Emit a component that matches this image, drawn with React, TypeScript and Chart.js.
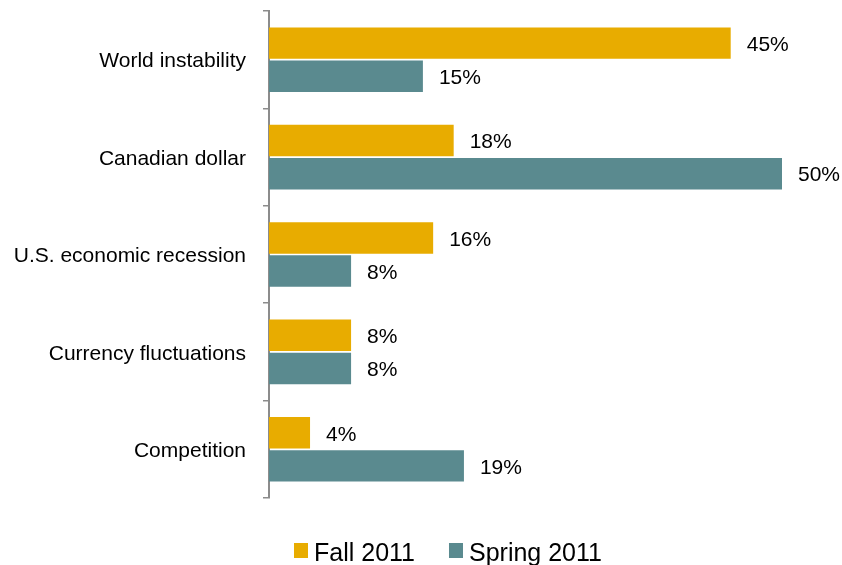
import React, { useEffect, useRef } from "react";
import { Chart, registerables } from "chart.js";

Chart.register(...registerables);

const categories = [
  "World instability",
  "Canadian dollar",
  "U.S. economic recession",
  "Currency fluctuations",
  "Competition",
];
const fall2011 = [45, 18, 16, 8, 4];
const spring2011 = [15, 50, 8, 8, 19];
const seriesNames = ["Fall 2011", "Spring 2011"];
const seriesColors = ["#E8AC00", "#5A8A8F"];

const FONT = '"Liberation Sans", Arial, sans-serif';

const valueLabels = {
  id: "valueLabels",
  afterDatasetsDraw(chart: any) {
    const ctx = chart.ctx;
    ctx.save();
    ctx.font = `21px ${FONT}`;
    ctx.fillStyle = "#000";
    ctx.textAlign = "left";
    ctx.textBaseline = "middle";
    chart.data.datasets.forEach((ds: any, di: number) => {
      const meta = chart.getDatasetMeta(di);
      meta.data.forEach((bar: any, i: number) => {
        ctx.fillText(`${ds.data[i]}%`, bar.x + 16, bar.y + 2);
      });
    });
    ctx.restore();
  },
};

const bottomLegend = {
  id: "bottomLegend",
  afterDraw(chart: any) {
    const ctx = chart.ctx;
    ctx.save();
    ctx.font = `25px ${FONT}`;
    ctx.textBaseline = "alphabetic";
    ctx.textAlign = "left";
    let x = 294;
    const boxTop = 543;
    const baseline = 561;
    chart.data.datasets.forEach((ds: any) => {
      ctx.fillStyle = ds.backgroundColor;
      ctx.fillRect(x, boxTop, 14, 15);
      ctx.fillStyle = "#000";
      ctx.fillText(ds.label, x + 20, baseline);
      x += 20 + ctx.measureText(ds.label).width + 34;
    });
    ctx.restore();
  },
};

export default function App() {
  const ref = useRef<HTMLCanvasElement>(null);
  useEffect(() => {
    document.body.style.margin = "0";
    const chart = new Chart(ref.current as HTMLCanvasElement, {
      type: "bar",
      data: {
        labels: categories,
        datasets: [
          {
            label: seriesNames[0],
            data: fall2011,
            backgroundColor: seriesColors[0],
            categoryPercentage: 0.68,
            barPercentage: 0.95,
          },
          {
            label: seriesNames[1],
            data: spring2011,
            backgroundColor: seriesColors[1],
            categoryPercentage: 0.68,
            barPercentage: 0.95,
          },
        ],
      },
      options: {
        indexAxis: "y",
        animation: false,
        responsive: false,
        layout: { padding: { top: 11, bottom: 67, right: 60, left: 0 } },
        plugins: {
          legend: { display: false },
          tooltip: { enabled: false },
        },
        scales: {
          x: { display: false, min: 0, max: 50 },
          y: {
            afterFit: (s: any) => {
              s.width = 269;
              s.paddingTop = 0;
              s.paddingBottom = 0;
            },
            border: { display: true, color: "#8C8C8C", width: 2 },
            grid: {
              display: true,
              drawOnChartArea: false,
              drawTicks: true,
              tickLength: 6,
              color: "#8C8C8C",
              lineWidth: 1.5,
              offset: true,
            },
            ticks: {
              padding: 17,
              labelOffset: 2,
              color: "#000",
              font: { family: FONT, size: 21 },
            },
          },
        },
      },
      plugins: [valueLabels, bottomLegend],
    });
    return () => chart.destroy();
  }, []);
  return (
    <div style={{ position: "absolute", left: 0, top: 0, width: 842, height: 565, background: "#fff" }}>
      <canvas ref={ref} width={842} height={565} />
    </div>
  );
}
